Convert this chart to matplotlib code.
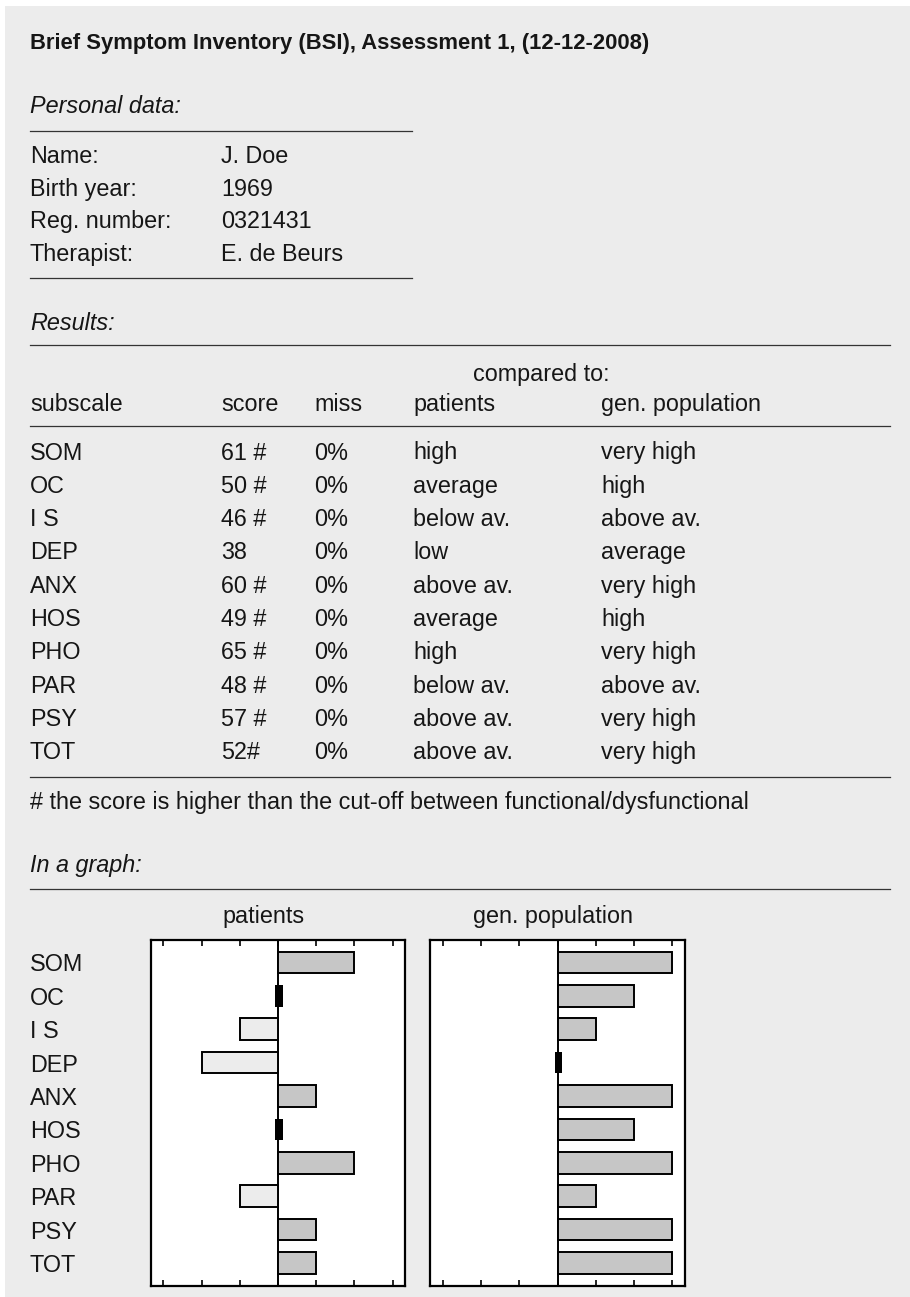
import matplotlib
matplotlib.use("Agg")
import matplotlib.pyplot as plt
from matplotlib.lines import Line2D
from matplotlib.patches import Rectangle
from matplotlib.transforms import blended_transform_factory

plt.rcParams['font.family'] = ['Liberation Sans', 'DejaVu Sans']

# ---------------- data ----------------
title = "Brief Symptom Inventory (BSI), Assessment 1, (12-12-2008)"
personal_labels = ["Name:", "Birth year:", "Reg. number:", "Therapist:"]
personal_values = ["J. Doe", "1969", "0321431", "E. de Beurs"]

table_headers = ["subscale", "score", "miss", "patients", "gen. population"]
subscales = ["SOM", "OC", "I S", "DEP", "ANX", "HOS", "PHO", "PAR", "PSY", "TOT"]
scores = ["61 #", "50 #", "46 #", "38", "60 #", "49 #", "65 #", "48 #", "57 #", "52#"]
miss = ["0%", "0%", "0%", "0%", "0%", "0%", "0%", "0%", "0%", "0%"]
patients_cat = ["high", "average", "below av.", "low", "above av.", "average",
                "high", "below av.", "above av.", "above av."]
genpop_cat = ["very high", "high", "above av.", "average", "very high", "high",
              "very high", "above av.", "very high", "very high"]
footnote = "# the score is higher than the cut-off between functional/dysfunctional"

patients_val = [2, 0, -1, -2, 1, 0, 2, -1, 1, 1]
genpop_val = [3, 2, 1, 0, 3, 2, 3, 1, 3, 3]
graph_titles = ["patients", "gen. population"]
tick_positions = [-3, -2, -1, 0, 1, 2, 3]

# ---------------- figure ----------------
W, H = 910, 1297
fig = plt.figure(figsize=(W / 100, H / 100), dpi=100)
fig.patch.set_facecolor("white")
fig.add_artist(Rectangle((5 / W, 0), 1 - 5 / W, 1 - 6 / H, transform=fig.transFigure,
                         facecolor="#ececec", edgecolor="none", zorder=-10))

FS = 16.8
TXT = "#161616"
BASE = 7.8  # px from visual centre to baseline


def fx(x):
    return x / W


def fy(y):
    return 1 - y / H


def text(x, y, s, **kw):
    kw.setdefault("fontsize", FS)
    kw.setdefault("color", TXT)
    fig.text(fx(x), fy(y + BASE), s, va="baseline", **kw)


def hline(x0, x1, y):
    fig.add_artist(Line2D([fx(x0), fx(x1)], [fy(y), fy(y)], transform=fig.transFigure,
                          color="#333333", linewidth=0.9))


# title
text(30, 41, title, fontweight="bold", fontsize=15.8)

# personal data
text(30, 105, "Personal data:", style="italic")
hline(30, 412, 130.7)
for i, (lab, val) in enumerate(zip(personal_labels, personal_values)):
    y = 155 + i * 32.8
    text(30, y, lab)
    text(221, y, val)
hline(30, 412, 278)

# results table
text(30, 322, "Results:", style="italic")
hline(30, 890, 344.5)
text(473, 373, "compared to:")
col_x = [30, 221, 314, 413, 601]
for cx, h in zip(col_x, table_headers):
    text(cx, 403, h)
hline(30, 890, 426)
for i in range(len(subscales)):
    y = 451.7 + i * 33.33
    for cx, s in zip(col_x, [subscales[i], scores[i], miss[i], patients_cat[i], genpop_cat[i]]):
        text(cx, y, s)
hline(30, 890, 777)
text(30, 801, footnote)

# graph section
text(30, 864, "In a graph:", style="italic")
hline(30, 890, 889)

ax_top, ax_bot = 940, 1286
axes_x = [(150.7, 405.3), (430.0, 685.0)]
title_x = [222, 473]
series = [patients_val, genpop_val]
rows = list(range(len(subscales)))

for k, ((x0, x1), vals) in enumerate(zip(axes_x, series)):
    ax = fig.add_axes([fx(x0), fy(ax_bot), (x1 - x0) / W, (ax_bot - ax_top) / H])
    ax.set_facecolor("white")
    ax.set_xlim(-3.33, 3.33)
    ax.set_ylim(9.69, -0.67)
    pos_rows = [r for r, v in zip(rows, vals) if v > 0]
    neg_rows = [r for r, v in zip(rows, vals) if v < 0]
    zero_rows = [r for r, v in zip(rows, vals) if v == 0]
    ax.barh(pos_rows, [v for v in vals if v > 0], height=0.65, left=0,
            color="#c6c6c6", edgecolor="black", linewidth=1.4, zorder=2)
    ax.barh(neg_rows, [v for v in vals if v < 0], height=0.65, left=0,
            color="#ececec", edgecolor="black", linewidth=1.4, zorder=2)
    ax.barh(zero_rows, [0.19] * len(zero_rows), height=0.65, left=-0.07,
            color="black", edgecolor="none", zorder=3)
    ax.axvline(0, color="black", linewidth=1.4, zorder=1)
    ax.set_xticks(tick_positions)
    ax.set_xticklabels([])
    ax.set_yticks([])
    ax.tick_params(axis="x", direction="in", top=True, bottom=True, length=4.5,
                   width=1.2, color="black")
    for sp in ax.spines.values():
        sp.set_linewidth(1.6)
        sp.set_color("black")
    text(title_x[k], 915, graph_titles[k])
    if k == 0:
        tr = blended_transform_factory(fig.transFigure, ax.transData)
        for r, lab in zip(rows, subscales):
            ax.text(fx(30), r, lab, transform=tr, ha="left", va="center_baseline",
                    fontsize=FS, color=TXT, clip_on=False)

fig.savefig("out.png", dpi=100, facecolor=fig.get_facecolor())
